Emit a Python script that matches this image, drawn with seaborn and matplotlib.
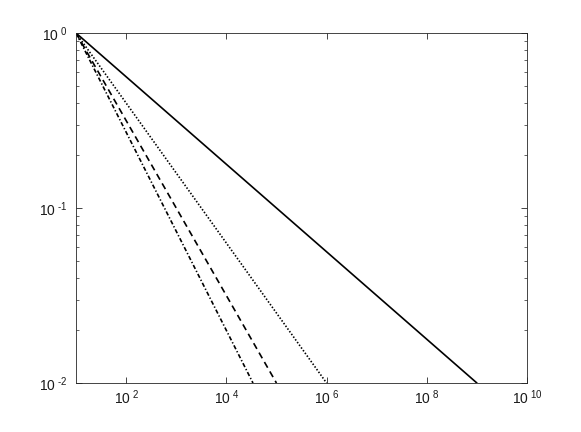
import matplotlib
matplotlib.use('Agg')
import matplotlib.pyplot as plt
import pandas as pd
import seaborn as sns

# every curve starts at (10, 1) and runs straight (in log-log) down to y = 1e-2
x_start = 10
y_start = 1.0
y_end = 1e-2
x_end_solid = 1e9
x_end_dotted = 1e6
x_end_dashed = 1e5
x_end_dashdot = 3.4e4

series = ['solid', 'dotted', 'dashed', 'dashdot']
x_ends = [x_end_solid, x_end_dotted, x_end_dashed, x_end_dashdot]

rows = []
for name, xe in zip(series, x_ends):
    rows.append({'curve': name, 'x': x_start, 'y': y_start})
    rows.append({'curve': name, 'x': xe, 'y': y_end})
df = pd.DataFrame(rows)

sns.set_style('ticks')
plt.rcParams['font.family'] = ['Liberation Sans', 'DejaVu Sans']
plt.rcParams['mathtext.fontset'] = 'custom'
plt.rcParams['mathtext.rm'] = 'Liberation Sans'
plt.rcParams['mathtext.it'] = 'Liberation Sans'

fig = plt.figure(figsize=(5.81, 4.32), dpi=100)
ax = fig.add_axes([76 / 581, 49 / 432, 451 / 581, 350 / 432])

# dash patterns (in units of line width), matlab-ish
dash_map = {'solid': '', 'dotted': (0.9, 1.1), 'dashed': (3.9, 2.6),
            'dashdot': (2.6, 1.3, 0.8, 1.3)}
sns.lineplot(data=df, x='x', y='y', style='curve', units='curve',
             estimator=None, dashes=dash_map, color='black', linewidth=1.2,
             legend=False, ax=ax)

ax.set_xscale('log')
ax.set_yscale('log')
ax.set_xlim(1e1, 1e10)
ax.set_ylim(1e-2, 1e0)
ax.set_xticks([1e2, 1e4, 1e6, 1e8, 1e10])
ax.set_xticklabels([r'$10^{\ 2}$', r'$10^{\ 4}$', r'$10^{\ 6}$',
                    r'$10^{\ 8}$', r'$10^{\ 10}$'])
ax.set_yticks([1e-2, 1e-1, 1e0])
# short hyphen instead of the wide mathtext minus
ax.set_yticklabels(['$10^{\\ \u2010' + '2}$', '$10^{\\ \u2010' + '1}$',
                    r'$10^{\ 0}$'])
ax.set_xlabel('')
ax.set_ylabel('')

for s in ax.spines.values():
    s.set_visible(True)
    s.set_color('#262626')
    s.set_linewidth(0.6)
ax.tick_params(which='both', direction='in', top=True, right=True,
               color='#262626', labelsize=10, labelcolor='#1a1a1a')
ax.tick_params(axis='x', pad=4)
ax.tick_params(axis='y', pad=6.5)
ax.tick_params(which='major', length=4, width=0.6)
ax.tick_params(which='minor', length=2, width=0.5)

fig.savefig('out.png', dpi=100)
